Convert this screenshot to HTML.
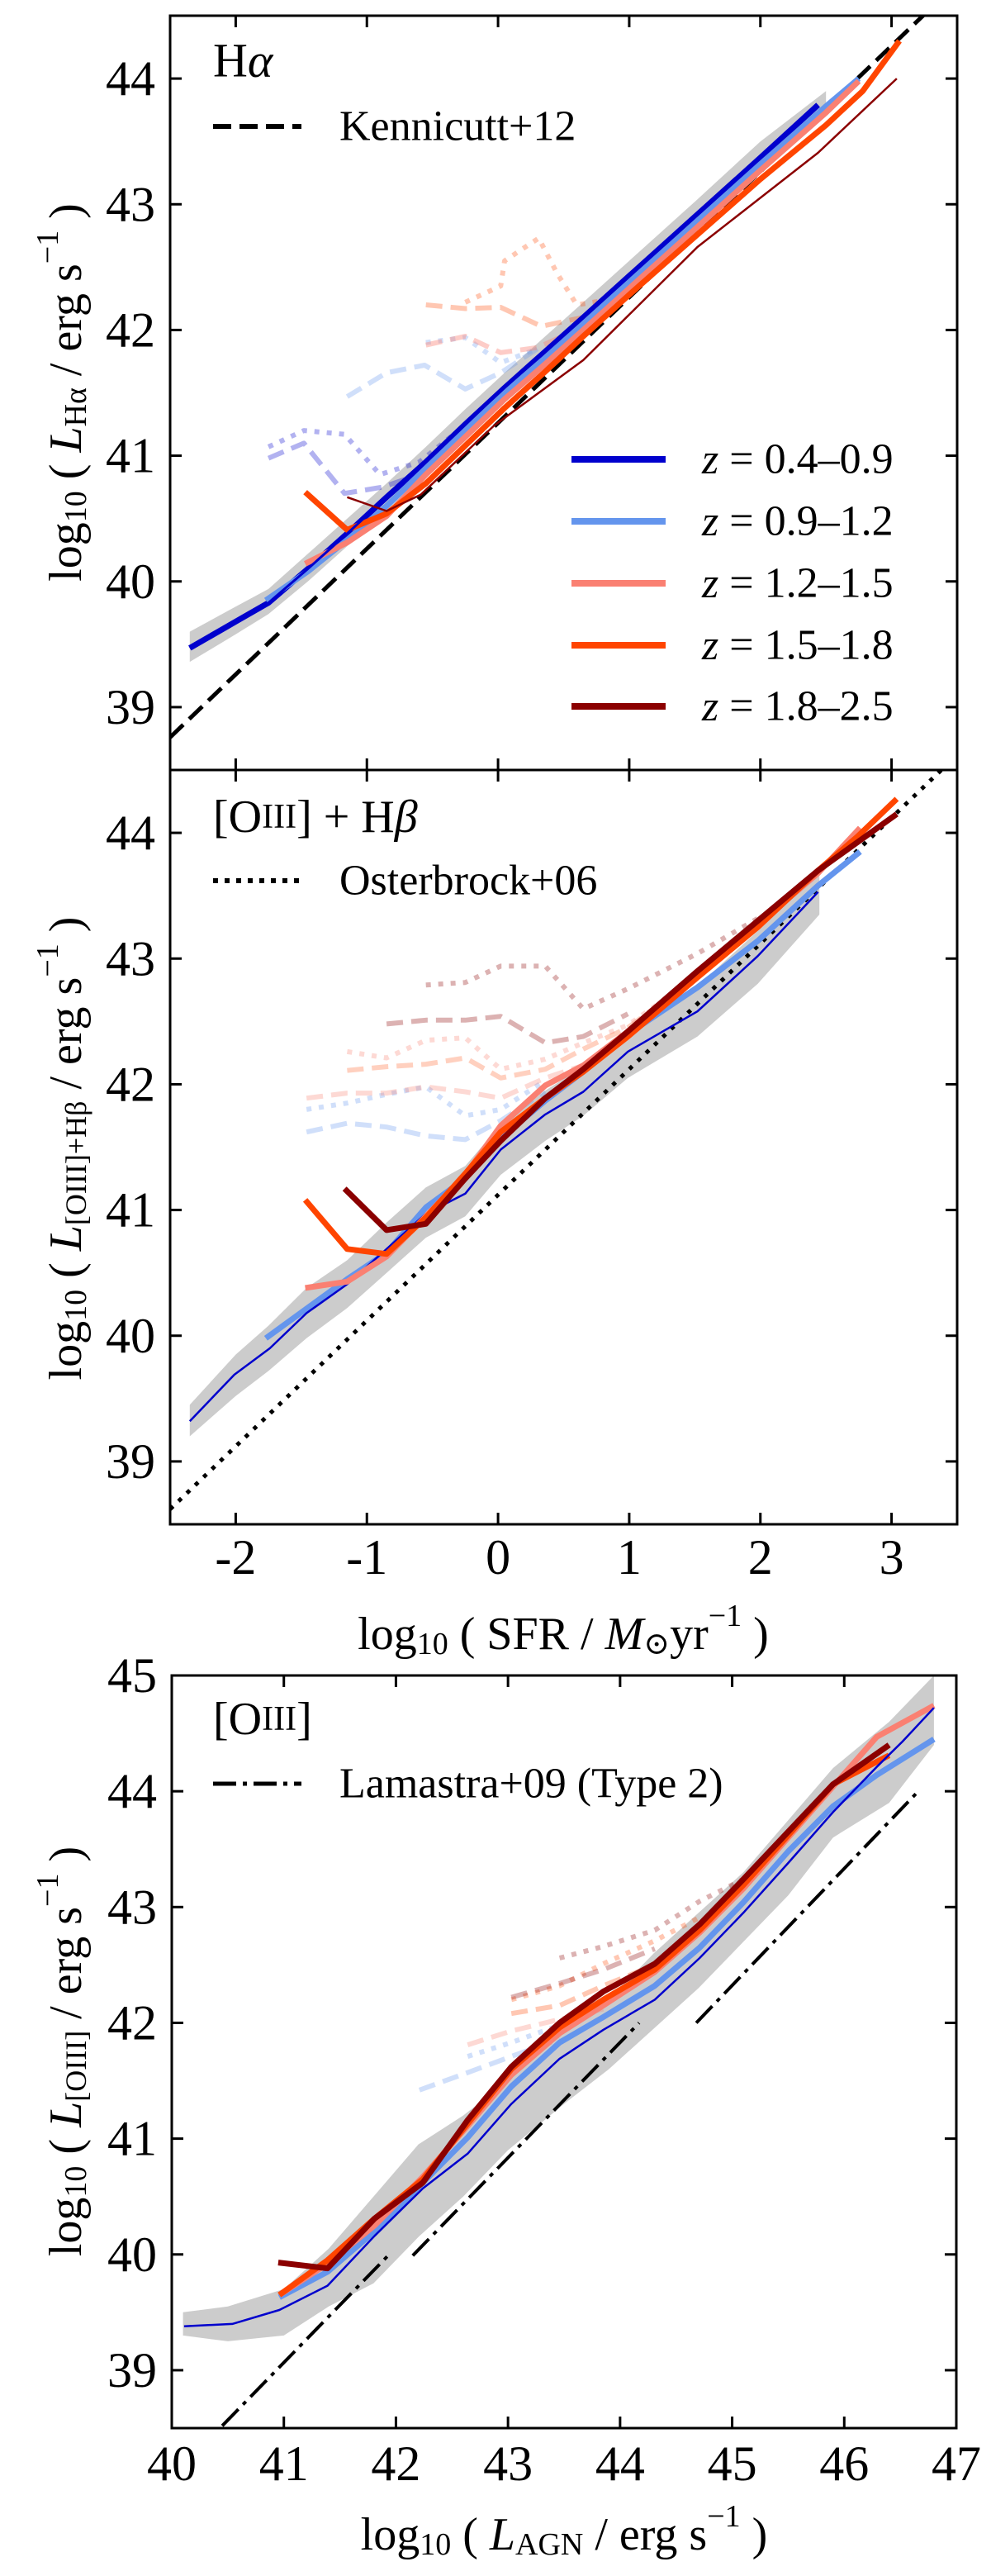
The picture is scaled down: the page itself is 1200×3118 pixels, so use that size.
<!DOCTYPE html>
<html><head><meta charset="utf-8"><style>
html,body{margin:0;padding:0;background:#fff}
svg{display:block}
text{font-family:"Liberation Serif","DejaVu Serif",serif;fill:#000}
</style></head><body>
<svg id="fig" xmlns="http://www.w3.org/2000/svg" width="1200" height="3118" viewBox="0 0 1200 3118">
<defs>
<clipPath id="c1"><rect x="206" y="19" width="953" height="913"/></clipPath>
<clipPath id="c2"><rect x="206" y="932" width="953" height="913"/></clipPath>
<clipPath id="c3"><rect x="208" y="2028" width="950" height="911"/></clipPath>
</defs>
<g id="g1" clip-path="url(#c1)"></g>
<g id="g2" clip-path="url(#c2)"></g>
<g id="g3" clip-path="url(#c3)"></g>
<g id="axes"></g>

<text x="258" y="73" font-size="58" dominant-baseline="central">H<tspan font-style="italic">α</tspan></text>
<line x1="258" y1="153" x2="365" y2="153" stroke="#000" stroke-width="6" stroke-dasharray="22,10"/>
<text x="411" y="153" font-size="52" dominant-baseline="central">Kennicutt+12</text>
<g>
<line x1="692" y1="556" x2="806" y2="556" stroke="#0000cd" stroke-width="8"/>
<text x="850" y="556" font-size="52" dominant-baseline="central"><tspan font-style="italic">z</tspan> = 0.4–0.9</text>
<line x1="692" y1="631" x2="806" y2="631" stroke="#6495ed" stroke-width="8"/>
<text x="850" y="631" font-size="52" dominant-baseline="central"><tspan font-style="italic">z</tspan> = 0.9–1.2</text>
<line x1="692" y1="706" x2="806" y2="706" stroke="#fa8072" stroke-width="8"/>
<text x="850" y="706" font-size="52" dominant-baseline="central"><tspan font-style="italic">z</tspan> = 1.2–1.5</text>
<line x1="692" y1="781" x2="806" y2="781" stroke="#ff4500" stroke-width="8"/>
<text x="850" y="781" font-size="52" dominant-baseline="central"><tspan font-style="italic">z</tspan> = 1.5–1.8</text>
<line x1="692" y1="855" x2="806" y2="855" stroke="#8b0000" stroke-width="8"/>
<text x="850" y="855" font-size="52" dominant-baseline="central"><tspan font-style="italic">z</tspan> = 1.8–2.5</text>
</g>
<text transform="translate(80,475) rotate(-90)" text-anchor="middle" dominant-baseline="central" font-size="56">log<tspan font-size="38" dy="12">10</tspan><tspan dy="-12"> ( </tspan><tspan font-style="italic">L</tspan><tspan font-size="38" dy="12">Hα</tspan><tspan dy="-12"> / erg s</tspan><tspan font-size="38" dy="-22">−1</tspan><tspan dy="22"> )</tspan></text>

<text x="258" y="989" font-size="56" dominant-baseline="central">[O<tspan font-size="42">III</tspan>] + H<tspan font-style="italic">β</tspan></text>
<line x1="258" y1="1066" x2="365" y2="1066" stroke="#000" stroke-width="6" stroke-dasharray="6,8"/>
<text x="411" y="1066" font-size="52" dominant-baseline="central">Osterbrock+06</text>
<text transform="translate(80,1390) rotate(-90)" text-anchor="middle" dominant-baseline="central" font-size="56">log<tspan font-size="38" dy="12">10</tspan><tspan dy="-12"> ( </tspan><tspan font-style="italic">L</tspan><tspan font-size="36" dy="12">[OIII]+Hβ</tspan><tspan dy="-12"> / erg s</tspan><tspan font-size="38" dy="-22">−1</tspan><tspan dy="22"> )</tspan></text>
<text x="682" y="1978" text-anchor="middle" dominant-baseline="central" font-size="56">log<tspan font-size="38" dy="12">10</tspan><tspan dy="-12"> ( SFR / </tspan><tspan font-style="italic">M</tspan><tspan font-size="38" dy="12">⊙</tspan><tspan dy="-12">yr</tspan><tspan font-size="38" dy="-22">−1</tspan><tspan dy="22"> )</tspan></text>

<text x="258" y="2081" font-size="56" dominant-baseline="central">[O<tspan font-size="42">III</tspan>]</text>
<line x1="258" y1="2159" x2="365" y2="2159" stroke="#000" stroke-width="5" stroke-dasharray="28,8,5,8"/>
<text x="411" y="2159" font-size="52" dominant-baseline="central">Lamastra+09 (Type 2)</text>
<text transform="translate(80,2483) rotate(-90)" text-anchor="middle" dominant-baseline="central" font-size="56">log<tspan font-size="38" dy="12">10</tspan><tspan dy="-12"> ( </tspan><tspan font-style="italic">L</tspan><tspan font-size="36" dy="12">[OIII]</tspan><tspan dy="-12"> / erg s</tspan><tspan font-size="38" dy="-22">−1</tspan><tspan dy="22"> )</tspan></text>
<text x="683" y="3068" text-anchor="middle" dominant-baseline="central" font-size="56">log<tspan font-size="38" dy="12">10</tspan><tspan dy="-12"> ( </tspan><tspan font-style="italic">L</tspan><tspan font-size="38" dy="12">AGN</tspan><tspan dy="-12"> / erg s</tspan><tspan font-size="38" dy="-22">−1</tspan><tspan dy="22"> )</tspan></text>
</svg>
<script>
const haBandX = [-2.35,-2.0,-1.75,-1.45,-1.15,-0.85,-0.55,-0.25,0.05,0.35,0.65,1.0,1.5,2.0,2.5];
const haBandLo = [39.36,39.58,39.74,40.0,40.28,40.56,40.85,41.15,41.44,41.72,42.0,42.33,42.8,43.27,43.72];
const haBandHi = [39.6,39.8,39.94,40.22,40.5,40.78,41.07,41.37,41.66,41.94,42.22,42.55,43.02,43.5,43.9];
const haZ1X = [-2.35,-2.0,-1.75,-1.45,-1.15,-0.85,-0.55,-0.25,0.05,0.35,0.65,1.0,1.5,2.0,2.44];
const haZ1Y = [39.47,39.68,39.83,40.1,40.38,40.67,40.95,41.25,41.54,41.82,42.1,42.43,42.9,43.37,43.79];
const haZ2X = [-1.77,-1.45,-1.15,-0.85,-0.55,-0.25,0.05,0.35,0.65,1.0,1.5,2.0,2.5,2.75];
const haZ2Y = [39.85,40.08,40.33,40.6,40.9,41.2,41.5,41.77,42.05,42.38,42.85,43.32,43.78,44.0];
const haZ3X = [-1.47,-1.15,-0.85,-0.55,-0.25,0.05,0.35,0.65,1.0,1.5,2.0,2.5,2.75];
const haZ3Y = [40.14,40.31,40.52,40.85,41.15,41.45,41.72,42.0,42.33,42.8,43.27,43.73,43.98];
const haZ4X = [-1.47,-1.15,-0.85,-0.55,-0.25,0.05,0.35,0.65,1.0,1.5,2.0,2.5,2.78,3.06];
const haZ4Y = [40.71,40.41,40.54,40.78,41.08,41.38,41.66,41.95,42.28,42.74,43.2,43.63,43.9,44.3];
const haZ5X = [-1.15,-0.85,-0.59,-0.03,0.65,1.52,2.44,3.04];
const haZ5Y = [40.67,40.56,40.69,41.24,41.76,42.66,43.41,44.0];
const haF1DashX = [-1.75,-1.48,-1.17,-0.88,-0.6];
const haF1DashY = [40.98,41.1,40.7,40.75,40.85];
const haF1DotX = [-1.75,-1.48,-1.17,-0.9,-0.6,-0.3,0.02];
const haF1DotY = [41.07,41.2,41.17,40.85,40.95,41.2,41.45];
const haF2DashX = [-1.15,-0.85,-0.56,-0.25,0.02,0.3];
const haF2DashY = [41.47,41.66,41.72,41.53,41.66,41.85];
const haF2DotX = [-0.55,-0.25,0.02,0.3];
const haF2DotY = [41.9,41.94,41.74,41.85];
const haF3DashX = [-0.55,-0.25,0.02,0.3,0.6];
const haF3DashY = [41.88,41.95,41.82,41.86,42.0];
const haF4DashX = [-0.55,-0.25,0.02,0.33,0.65];
const haF4DashY = [42.2,42.17,42.18,42.03,42.1];
const haF4DotX = [-0.25,0.02,0.05,0.31,0.45,0.6,0.9,1.1];
const haF4DotY = [42.22,42.35,42.55,42.73,42.45,42.2,42.25,42.47];
const kennX = [-2.5,3.5];
const kennY = [38.76,44.76];

const obBandX = [-2.35,-2.0,-1.75,-1.46,-1.15,-0.85,-0.55,-0.25,0.02,0.36,0.65,0.99,1.52,1.98,2.45];
const obBandLo = [39.2,39.52,39.72,39.98,40.22,40.5,40.78,40.95,41.28,41.55,41.75,42.05,42.38,42.8,43.35];
const obBandHi = [39.45,39.85,40.08,40.38,40.6,40.9,41.18,41.35,41.68,41.95,42.14,42.45,42.78,43.22,43.68];
const obZ1X = [-2.35,-2.01,-1.74,-1.46,-1.15,-0.85,-0.55,-0.25,0.02,0.36,0.65,0.99,1.52,1.98,2.44];
const obZ1Y = [39.32,39.69,39.9,40.18,40.41,40.69,40.97,41.13,41.48,41.76,41.94,42.26,42.58,43.02,43.53];
const obZ2X = [-1.77,-1.15,-0.85,-0.55,-0.25,0.02,0.36,0.65,0.99,1.52,1.98,2.44,2.76];
const obZ2Y = [39.98,40.45,40.66,41.02,41.25,41.57,41.87,42.1,42.4,42.77,43.14,43.58,43.85];
const obZ3X = [-1.47,-1.15,-0.85,-0.55,-0.25,0.02,0.36,0.65,0.99,1.52,1.98,2.44,2.76];
const obZ3Y = [40.38,40.43,40.63,40.95,41.28,41.67,41.99,42.15,42.42,42.87,43.27,43.68,44.04];
const obZ4X = [-1.47,-1.15,-0.85,-0.55,-0.25,0.02,0.36,0.65,0.99,1.52,1.98,2.44,2.74,3.04];
const obZ4Y = [41.08,40.69,40.65,40.94,41.29,41.62,41.89,42.1,42.38,42.85,43.25,43.7,43.97,44.27];
const obZ5X = [-1.17,-0.85,-0.55,-0.25,0.02,0.36,0.65,0.99,1.52,1.98,2.44,3.04];
const obZ5Y = [41.17,40.84,40.89,41.25,41.55,41.89,42.12,42.42,42.9,43.3,43.7,44.15];
const obF2DashX = [-1.46,-1.15,-0.85,-0.55,-0.25,0.02,0.36];
const obF2DashY = [41.62,41.69,41.66,41.59,41.56,41.71,41.94];
const obF2DotX = [-1.46,-1.15,-0.85,-0.55,-0.25,0.02,0.36];
const obF2DotY = [41.8,41.85,41.92,41.98,41.75,41.8,42.03];
const obF3DashX = [-1.46,-1.15,-0.85,-0.55,-0.25,0.02,0.36,0.65];
const obF3DashY = [41.89,41.93,41.93,41.98,41.94,41.89,42.05,42.15];
const obF4DashX = [-1.15,-0.85,-0.55,-0.25,0.02,0.36,0.65,0.99,1.52];
const obF4DashY = [42.11,42.14,42.16,42.21,42.05,42.12,42.28,42.45,42.86];
const obF3DotX = [-1.15,-0.85,-0.55,-0.25,0.02,0.36,0.65,0.99,1.52];
const obF3DotY = [42.26,42.21,42.35,42.37,42.12,42.2,42.33,42.47,42.86];
const obF5DashX = [-0.85,-0.55,-0.25,0.02,0.36,0.65,0.99];
const obF5DashY = [42.48,42.51,42.51,42.54,42.33,42.38,42.56];
const obF5DotX = [-0.55,-0.25,0.02,0.36,0.65,0.99,1.52,1.98];
const obF5DotY = [42.79,42.81,42.94,42.94,42.6,42.76,43.04,43.32];
const ostX = [-2.5,3.5];
const ostY = [38.62,44.62];

const agBandX = [40.1,40.5,41.0,41.4,41.8,42.2,42.6,43.0,43.5,43.9,44.3,44.7,45.1,45.5,45.9,46.4,46.8];
const agBandLo = [39.3,39.25,39.3,39.55,39.75,40.15,40.5,40.9,41.3,41.6,41.95,42.3,42.7,43.1,43.6,43.9,44.4];
const agBandHi = [39.5,39.55,39.7,40.05,40.5,40.95,41.2,41.5,41.95,42.2,42.6,42.95,43.3,43.75,44.2,44.6,45.0];
const agZ1X = [40.11,40.54,40.96,41.39,41.81,42.24,42.64,43.03,43.46,43.85,44.31,44.71,45.1,45.5,45.9,46.29,46.52,46.8];
const agZ1Y = [39.38,39.4,39.52,39.73,40.16,40.57,40.87,41.3,41.69,41.94,42.2,42.56,42.95,43.38,43.82,44.21,44.43,44.72];
const agZ2X = [40.96,41.39,41.81,42.24,42.64,43.03,43.46,43.85,44.31,44.71,45.1,45.5,45.9,46.29,46.8];
const agZ2Y = [39.63,39.85,40.2,40.62,41.01,41.45,41.83,42.05,42.32,42.65,43.04,43.48,43.87,44.14,44.45];
const agZ3X = [40.96,41.39,41.81,42.24,42.64,43.03,43.46,43.85,44.31,44.71,45.1,45.5,45.9,46.29,46.8];
const agZ3Y = [39.65,39.92,40.25,40.67,41.11,41.55,41.91,42.15,42.44,42.78,43.16,43.6,44.04,44.47,44.74];
const agZ4X = [40.96,41.39,41.81,42.24,42.64,43.03,43.46,43.85,44.31,44.71,45.1,45.5,45.9,46.4];
const agZ4Y = [39.65,39.95,40.31,40.65,41.13,41.6,41.96,42.2,42.46,42.8,43.19,43.62,44.06,44.31];
const agZ5X = [40.95,41.39,41.81,42.24,42.64,43.03,43.46,43.85,44.31,44.71,45.1,45.5,45.9,46.4];
const agZ5Y = [39.93,39.88,40.31,40.62,41.16,41.62,42.0,42.27,42.51,42.85,43.24,43.65,44.06,44.4];
const agF2DashX = [42.21,42.64,43.03,43.46];
const agF2DashY = [41.42,41.57,41.71,41.86];
const agF2DotX = [42.64,43.03,43.46];
const agF2DotY = [41.71,41.83,41.98];
const agF3DashX = [42.64,43.03,43.46,43.85];
const agF3DashY = [41.81,41.93,42.03,42.12];
const agF4DashX = [43.03,43.46,43.85,44.31];
const agF4DashY = [42.08,42.15,42.32,42.5];
const agF4DotX = [43.03,43.46,43.85,44.31,44.71];
const agF4DotY = [42.2,42.32,42.51,42.71,42.91];
const agF5DashX = [43.03,43.46,43.85,44.31];
const agF5DashY = [42.22,42.34,42.46,42.64];
const agF5DotX = [43.46,43.85,44.31,44.71,45.1,45.28];
const agF5DotY = [42.56,42.66,42.8,43.05,43.24,43.38];
const lamSeg1X = [40.45,41.96];
const lamSeg1Y = [38.52,40.02];
const lamSeg2X = [42.15,44.17];
const lamSeg2Y = [39.99,42.0];
const lamSeg3X = [44.68,46.66];
const lamSeg3Y = [42.0,44.0];

const sfrTicks = [-2,-1,0,1,2,3];
const sfrTickLabels = ['-2','-1','0','1','2','3'];
const lumTicks12 = [39,40,41,42,43,44];
const lumTicks3 = [39,40,41,42,43,44,45];
const agnTicks = [40,41,42,43,44,45,46,47];

const NS = 'http://www.w3.org/2000/svg';
function mkScale(d0,d1,p0,p1){return v=>p0+(v-d0)/(d1-d0)*(p1-p0);}
const P = {
  p1:{sx:mkScale(-2.5,3.5,206,1159), sy:mkScale(38.5,44.5,932,19), g:document.getElementById('g1'), x0:206,x1:1159,y0:19,y1:932},
  p2:{sx:mkScale(-2.5,3.5,206,1159), sy:mkScale(38.5,44.5,1845,932), g:document.getElementById('g2'), x0:206,x1:1159,y0:932,y1:1845},
  p3:{sx:mkScale(40,47,208,1158), sy:mkScale(38.5,45,2939,2028), g:document.getElementById('g3'), x0:208,x1:1158,y0:2028,y1:2939}
};
function pts(p,xs,ys){return xs.map((x,i)=>p.sx(x).toFixed(1)+','+p.sy(ys[i]).toFixed(1)).join(' ');}
function line(p,xs,ys,color,w,dash,op,name){
  const el=document.createElementNS(NS,'polyline');
  el.setAttribute('points',pts(p,xs,ys));
  el.setAttribute('fill','none');
  el.setAttribute('stroke',color);
  el.setAttribute('stroke-width',w);
  el.setAttribute('stroke-linejoin','round');
  if(dash) el.setAttribute('stroke-dasharray',dash);
  if(op!==1) el.setAttribute('stroke-opacity',op);
  
  
  p.g.appendChild(el);
}
function band(p,xs,lo,hi,name){
  const top=xs.map((x,i)=>p.sx(x).toFixed(1)+','+p.sy(hi[i]).toFixed(1));
  const bot=xs.map((x,i)=>p.sx(x).toFixed(1)+','+p.sy(lo[i]).toFixed(1)).reverse();
  const el=document.createElementNS(NS,'polygon');
  el.setAttribute('points',top.concat(bot).join(' '));
  el.setAttribute('fill','#cccccc');
  
  
  p.g.appendChild(el);
}
const C1='#0000cd',C2='#6495ed',C3='#fa8072',C4='#ff4500',C5='#8b0000';
const DA='20,10', DO='6,9';

let p=P.p1;
band(p,haBandX,haBandLo,haBandHi,'halpha-scatter-band');
line(p,haF1DashX,haF1DashY,C1,6,DA,0.3,'halpha-z04-dashed');
line(p,haF1DotX,haF1DotY,C1,6,DO,0.3,'halpha-z04-dotted');
line(p,haF2DashX,haF2DashY,C2,6,DA,0.3,'halpha-z09-dashed');
line(p,haF2DotX,haF2DotY,C2,6,DO,0.3,'halpha-z09-dotted');
line(p,haF3DashX,haF3DashY,C3,6,DA,0.4,'halpha-z12-dashed');
line(p,haF4DashX,haF4DashY,C4,6,DA,0.3,'halpha-z15-dashed');
line(p,haF4DotX,haF4DotY,C4,6,DO,0.3,'halpha-z15-dotted');
line(p,kennX,kennY,'#000',5,'22,10',1,'kennicutt-relation');
line(p,haZ1X,haZ1Y,C1,7,null,1,'halpha-z04-line');
line(p,haZ2X,haZ2Y,C2,7,null,1,'halpha-z09-line');
line(p,haZ3X,haZ3Y,C3,7,null,1,'halpha-z12-line');
line(p,haZ4X,haZ4Y,C4,7,null,1,'halpha-z15-line');
line(p,haZ1X,haZ1Y,C1,3,null,1,'halpha-z04-thin');
line(p,haZ5X,haZ5Y,C5,2.5,null,1,'halpha-z18-line');

p=P.p2;
band(p,obBandX,obBandLo,obBandHi,'oiii-hbeta-scatter-band');
line(p,obF2DashX,obF2DashY,C2,6,DA,0.3,'oiii-hbeta-z09-dashed');
line(p,obF2DotX,obF2DotY,C2,6,DO,0.3,'oiii-hbeta-z09-dotted');
line(p,obF3DashX,obF3DashY,C3,6,DA,0.3,'oiii-hbeta-z12-dashed');
line(p,obF4DashX,obF4DashY,C4,6,DA,0.25,'oiii-hbeta-z15-dashed');
line(p,obF3DotX,obF3DotY,C3,6,DO,0.3,'oiii-hbeta-z12-dotted');
line(p,obF5DashX,obF5DashY,C5,6,DA,0.3,'oiii-hbeta-z18-dashed');
line(p,obF5DotX,obF5DotY,C5,6,DO,0.3,'oiii-hbeta-z18-dotted');
line(p,ostX,ostY,'#000',5,'5,9',1,'osterbrock-relation');
line(p,obZ2X,obZ2Y,C2,7,null,1,'oiii-hbeta-z09-line');
line(p,obZ1X,obZ1Y,C1,2.5,null,1,'oiii-hbeta-z04-line');
line(p,obZ3X,obZ3Y,C3,7,null,1,'oiii-hbeta-z12-line');
line(p,obZ4X,obZ4Y,C4,7,null,1,'oiii-hbeta-z15-line');
line(p,obZ5X,obZ5Y,C5,7,null,1,'oiii-hbeta-z18-line');

p=P.p3;
band(p,agBandX,agBandLo,agBandHi,'oiii-scatter-band');
line(p,agF2DashX,agF2DashY,C2,6,DA,0.3,'oiii-z09-dashed');
line(p,agF2DotX,agF2DotY,C2,6,DO,0.3,'oiii-z09-dotted');
line(p,agF3DashX,agF3DashY,C3,6,DA,0.3,'oiii-z12-dashed');
line(p,agF4DashX,agF4DashY,C4,6,DA,0.3,'oiii-z15-dashed');
line(p,agF4DotX,agF4DotY,C4,6,DO,0.3,'oiii-z15-dotted');
line(p,agF5DashX,agF5DashY,C5,6,DA,0.3,'oiii-z18-dashed');
line(p,agF5DotX,agF5DotY,C5,6,DO,0.3,'oiii-z18-dotted');
line(p,lamSeg1X,lamSeg1Y,'#000',4,'28,8,5,8',1,'lamastra-segment-1');
line(p,lamSeg2X,lamSeg2Y,'#000',4,'28,8,5,8',1,'lamastra-segment-2');
line(p,lamSeg3X,lamSeg3Y,'#000',4,'28,8,5,8',1,'lamastra-segment-3');
line(p,agZ2X,agZ2Y,C2,7,null,1,'oiii-z09-line');
line(p,agZ3X,agZ3Y,C3,7,null,1,'oiii-z12-line');
line(p,agZ4X,agZ4Y,C4,7,null,1,'oiii-z15-line');
line(p,agZ5X,agZ5Y,C5,7,null,1,'oiii-z18-line');
line(p,agZ1X,agZ1Y,C1,2.5,null,1,'oiii-z04-line');

const ax=document.getElementById('axes');
function frame(p,name){
  const r=document.createElementNS(NS,'rect');
  r.setAttribute('x',p.x0);r.setAttribute('y',p.y0);
  r.setAttribute('width',p.x1-p.x0);r.setAttribute('height',p.y1-p.y0);
  r.setAttribute('fill','none');r.setAttribute('stroke','#000');r.setAttribute('stroke-width','3');
  
  
  ax.appendChild(r);
}
function tk(x1,y1,x2,y2){
  const l=document.createElementNS(NS,'line');
  l.setAttribute('x1',x1);l.setAttribute('y1',y1);l.setAttribute('x2',x2);l.setAttribute('y2',y2);
  l.setAttribute('stroke','#000');l.setAttribute('stroke-width','3');
  
  
  ax.appendChild(l);
}
function lbl(x,y,s,anchor,name){
  const t=document.createElementNS(NS,'text');
  t.setAttribute('x',x);t.setAttribute('y',y);t.setAttribute('font-size','60');
  t.setAttribute('text-anchor',anchor);t.setAttribute('dominant-baseline','central');
  t.textContent=s;
  
  
  ax.appendChild(t);
}
function yTicks(p,ticks,pre){
  ticks.forEach(v=>{const y=p.sy(v);tk(p.x0,y,p.x0+14,y);tk(p.x1,y,p.x1-14,y);
    lbl(p.x0-18,y,String(v),'end',pre+'-y-tick-label');});
}
function xTicks(p,ticks,labels,pre,ly){
  ticks.forEach((v,i)=>{const x=p.sx(v);tk(x,p.y1,x,p.y1-14);tk(x,p.y0,x,p.y0+14);
    if(labels) lbl(x,ly,labels[i],'middle',pre+'-x-tick-label');});
}
frame(P.p1,'halpha-axes-frame');frame(P.p2,'oiii-hbeta-axes-frame');frame(P.p3,'oiii-axes-frame');
yTicks(P.p1,lumTicks12,'halpha');
yTicks(P.p2,lumTicks12,'oiii-hbeta');
yTicks(P.p3,lumTicks3,'oiii');
xTicks(P.p1,sfrTicks,null,'halpha',0);
xTicks(P.p2,sfrTicks,sfrTickLabels,'sfr',1885);
xTicks(P.p3,agnTicks,agnTicks.map(String),'agn',2982);
</script>
</body></html>
